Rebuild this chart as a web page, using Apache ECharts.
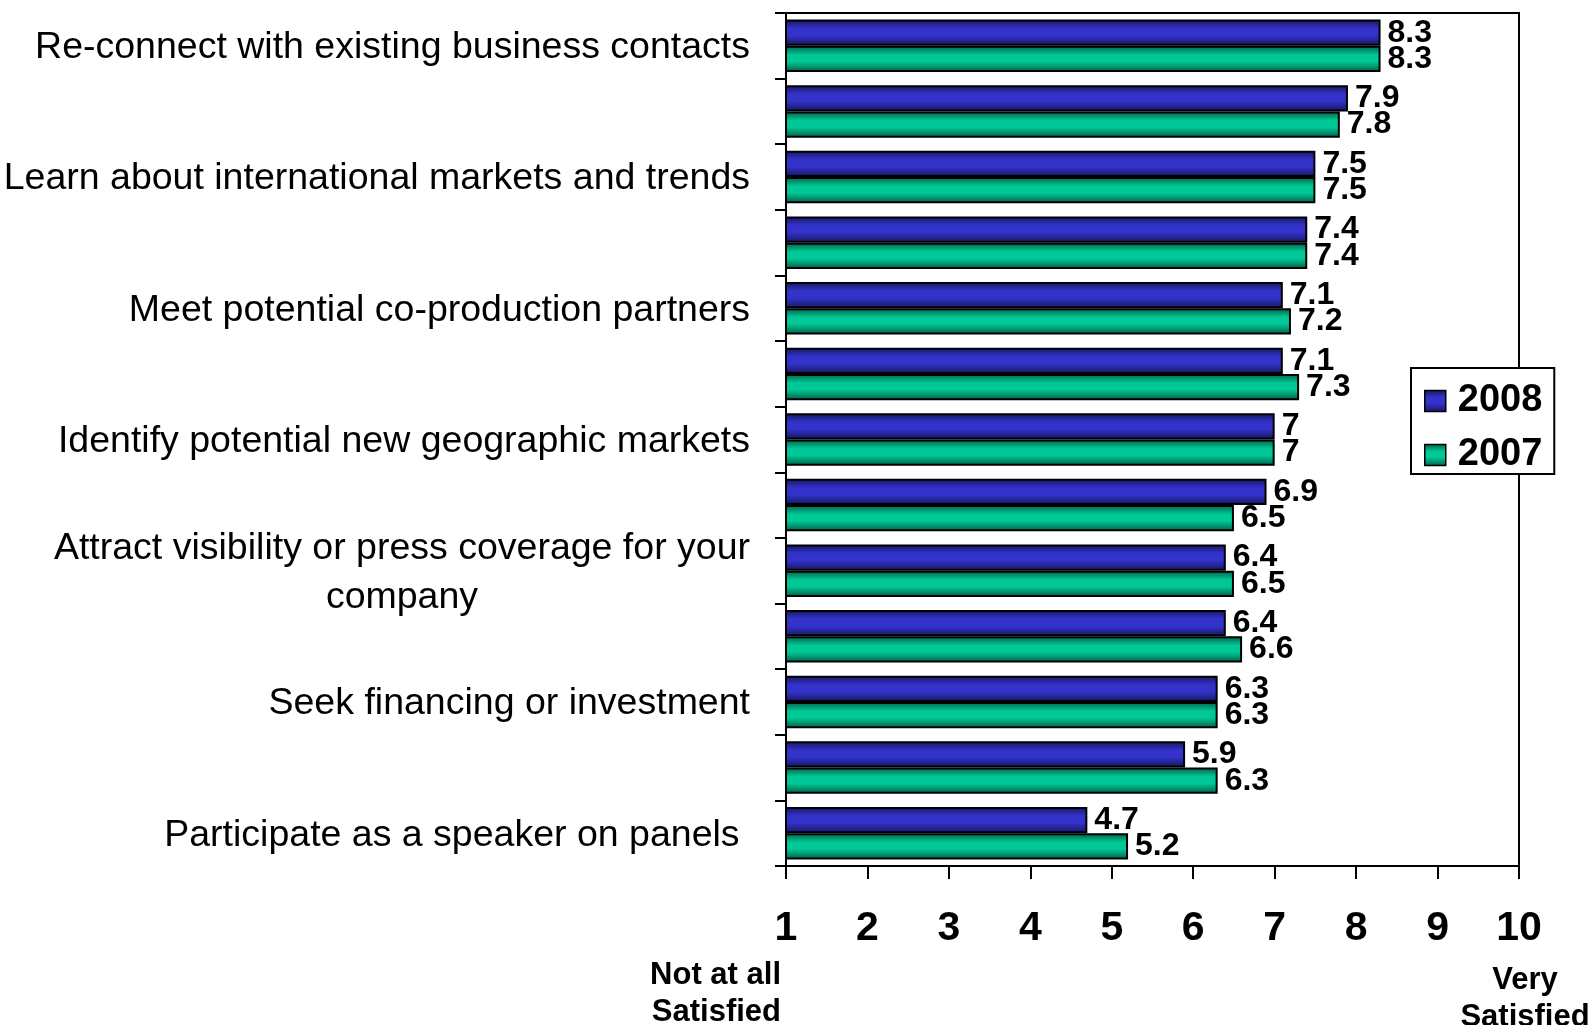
<!DOCTYPE html>
<html>
<head>
<meta charset="utf-8">
<script src="https://cdn.jsdelivr.net/npm/echarts@6/dist/echarts.min.js"></script>
<style>html,body{margin:0;padding:0;background:#fff;}#c{width:1589px;height:1025px;}</style>
</head>
<body>
<div id="c"></div>
<script>
var categories = [
  'Re-connect with existing business contacts', '',
  'Learn about international markets and trends', '',
  'Meet potential co-production partners', '',
  'Identify potential new geographic markets', '',
  'Attract visibility or press coverage for your\ncompany', '',
  'Seek financing or investment', '',
  'Participate as a speaker on panels '
];
var series2008 = [8.3, 7.9, 7.5, 7.4, 7.1, 7.1, 7, 6.9, 6.4, 6.4, 6.3, 5.9, 4.7];
var series2007 = [8.3, 7.8, 7.5, 7.4, 7.2, 7.3, 7, 6.5, 6.5, 6.6, 6.3, 6.3, 5.2];
var seriesNames = ['2008', '2007'];
var xMin = 1, xMax = 10, xInterval = 1;

var FONT = "'Liberation Sans Narrow', 'Arial Narrow', 'Liberation Sans', Arial, sans-serif";

function grad(dark, main) {
  return new echarts.graphic.LinearGradient(0, 0, 0, 1, [
    {offset: 0, color: dark},
    {offset: 0.35, color: main},
    {offset: 0.6, color: main},
    {offset: 1, color: dark}
  ]);
}
var blueFill = grad('#16165e', '#3333cc');
var greenFill = grad('#006048', '#00c896');

var chart = echarts.init(document.getElementById('c'));
var labelStyle = {
  show: true, position: 'right', distance: 7,
  fontFamily: FONT, fontWeight: 'bold', fontSize: 32, color: '#000'
};
chart.setOption({
  backgroundColor: '#fff',
  animation: false,
  grid: {left: 786, right: 70, top: 13, bottom: 159, show: true, outerBoundsMode: 'none',
         containLabel: false,
         borderColor: '#000', borderWidth: 2, backgroundColor: 'transparent'},
  legend: {
    orient: 'vertical', left: 1411, top: 368,
    data: seriesNames, icon: 'rect',
    backgroundColor: '#fff', borderColor: '#000', borderWidth: 2,
    padding: [14, 12, 0, 13], itemGap: 16, itemWidth: 21, itemHeight: 21,
    textStyle: {fontFamily: FONT, fontWeight: 'bold', fontSize: 38, color: '#000', padding: [0, 0, 0, 7]},
    itemStyle: {borderColor: '#000', borderWidth: 1.5}
  },
  xAxis: {
    type: 'value', min: xMin, max: xMax, interval: xInterval,
    splitLine: {show: false},
    axisLine: {show: true, lineStyle: {color: '#000', width: 2}},
    axisTick: {show: true, length: 13, lineStyle: {color: '#000', width: 2}},
    axisLabel: {margin: 42, fontFamily: FONT, fontWeight: 'bold', fontSize: 41, color: '#000'}
  },
  yAxis: {
    type: 'category', inverse: true, data: categories,
    axisLine: {show: true, lineStyle: {color: '#000', width: 2}},
    axisTick: {show: true, interval: 0, length: 11, lineStyle: {color: '#000', width: 2}},
    axisLabel: {
      interval: 0, margin: 36, fontFamily: FONT, fontSize: 37.5, color: '#000',
      lineHeight: 49, padding: [4, 0, 0, 0],
      formatter: function (v) { return v.indexOf('\n') >= 0 ? '{c|' + v + '}' : v; },
      rich: {c: {align: 'center', fontFamily: FONT, fontSize: 37.5, lineHeight: 49, color: '#000'}}
    }
  },
  series: [
    {name: seriesNames[0], type: 'bar', data: series2008, barGap: '0%', barCategoryGap: '20%',
     itemStyle: {color: blueFill, borderColor: '#000', borderWidth: 2}, label: labelStyle},
    {name: seriesNames[1], type: 'bar', data: series2007, barGap: '0%', barCategoryGap: '20%',
     itemStyle: {color: greenFill, borderColor: '#000', borderWidth: 2}, label: labelStyle}
  ],
  graphic: [
    {type: 'text', x: 781, y: 957,
     style: {text: 'Not at all\nSatisfied', textAlign: 'right', fontFamily: FONT, fontWeight: 'bold',
             fontSize: 31, lineHeight: 37, fill: '#000'}},
    {type: 'text', x: 1525, y: 962,
     style: {text: 'Very\nSatisfied', textAlign: 'center', fontFamily: FONT, fontWeight: 'bold',
             fontSize: 31, lineHeight: 37, fill: '#000'}}
  ]
});
</script>
</body>
</html>
